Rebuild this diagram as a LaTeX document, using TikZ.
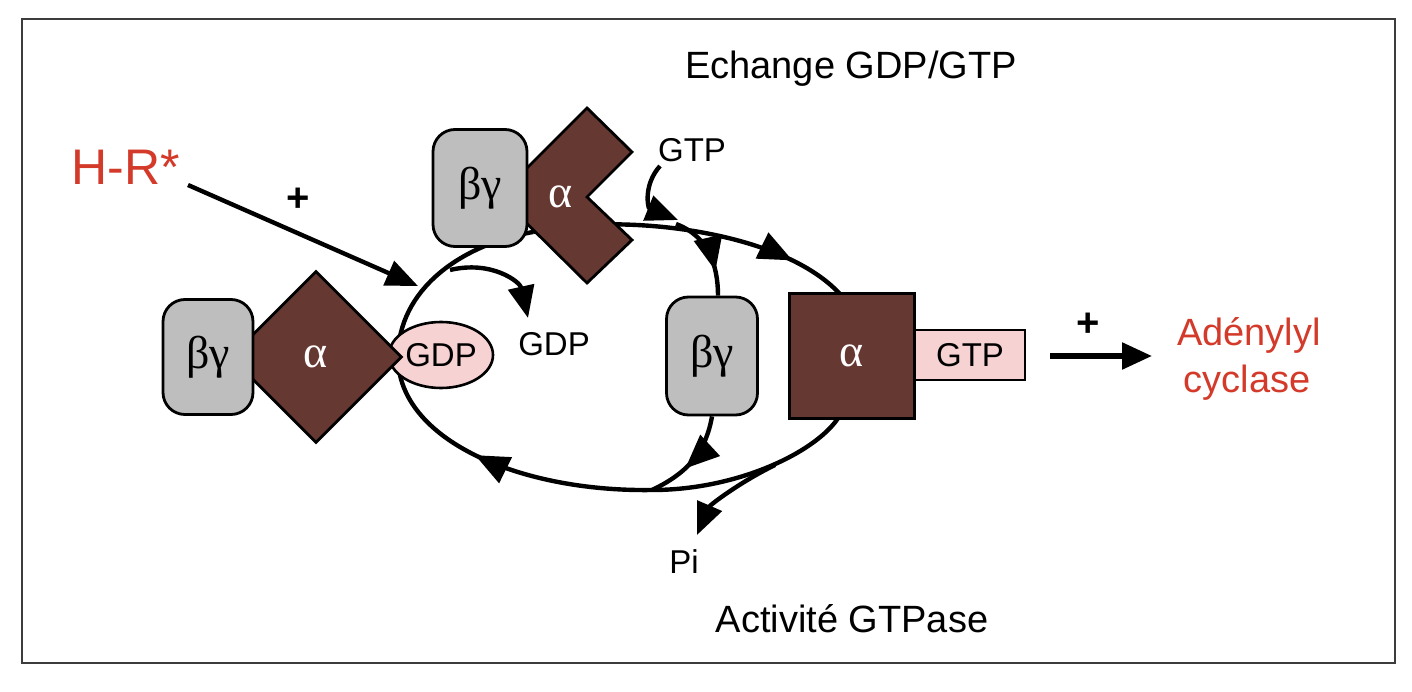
\documentclass[tikz,border=0pt]{standalone}
\usepackage{fontspec}
\setmainfont{Liberation Sans}
\newfontfamily\grk{Liberation Serif}
\usetikzlibrary{arrows.meta,decorations.markings,shapes.geometric}
\definecolor{bgray}{RGB}{190,190,190}
\definecolor{abrown}{RGB}{102,56,50}
\definecolor{gpink}{RGB}{246,210,210}
\definecolor{hred}{RGB}{212,58,42}
\definecolor{framec}{RGB}{60,60,60}
\begin{document}
\begin{tikzpicture}[x=1pt,y=-1pt,
  cyc/.style={line width=4.4pt},
  tip/.style={-{Triangle[length=32pt,width=26pt]}},
  marrow/.style={postaction={decorate},decoration={markings,mark=at position #1 with {\arrow{Triangle[length=34pt,width=28pt]}}}},
  greek/.style={font=\grk\fontsize{46}{46}\selectfont},
  bgbox/.style={draw=black,line width=2.8pt,fill=bgray,rounded corners=22pt,inner sep=0pt,greek},
  abox/.style={draw=black,line width=2.8pt,fill=abrown},
  lab/.style={font=\fontsize{33}{33}\selectfont,inner sep=0pt,anchor=base},
  big/.style={font=\fontsize{38}{38}\selectfont,inner sep=0pt,anchor=base},
  plus/.style={font=\bfseries\fontsize{40}{40}\selectfont,inner sep=0pt},
]
\fill[white] (0,0) rectangle (1412,692);
\useasboundingbox (0,0) rectangle (1412,692);
\draw[draw=framec,line width=2.8pt] (22,19) rectangle (1395,663);

% cycle coordinates
\coordinate (L) at (398,357);
\coordinate (TL) at (533,232);
\coordinate (SqT) at (845,300);
\coordinate (SqB) at (840,415);
\coordinate (B) at (652,490);

\draw[cyc] (L) .. controls (398,290) and (460,245) .. (TL);
\draw[cyc,marrow=0.8] (TL) .. controls (620,212) and (790,230) .. (SqT);
\draw[cyc] (SqT) -- (SqB);
\draw[cyc] (SqB) .. controls (820,450) and (740,490) .. (B);
\draw[cyc,marrow=0.58] (B) .. controls (520,492) and (398,440) .. (L);

% branches
\coordinate (gdpS) at (450,270);
\coordinate (gdpE) at (528,318);
\draw[cyc,tip] (gdpS) .. controls (492,260) and (520,282) .. (gdpE);
\coordinate (gtpS) at (660,166);
\coordinate (gtpE) at (678,220);
\draw[cyc,tip] (gtpS) .. controls (643,185) and (648,208) .. (gtpE);
\coordinate (bgS) at (676,224);
\coordinate (piS) at (775,465);
\coordinate (piE) at (697,535);
\draw[cyc,tip] (piS) .. controls (740,482) and (710,505) .. (piE);

% texts
\node[big] (ech) at (851,79) {Echange GDP/GTP};
\node[font=\fontsize{50}{50}\selectfont,text=hred,anchor=base,inner sep=0pt] (hr) at (126,185) {H-R*};
\node[plus] (p1) at (298,200) {+};
\node[lab] (gtpl) at (692,162) {GTP};
\node[lab] (gdpl) at (554,355) {GDP};
\node[lab] (pi) at (684,573) {Pi};
\node[big] (act) at (852,632) {Activité GTPase};
\node[big,text=hred] (ad1) at (1249,345) {Adénylyl};
\node[big,text=hred] (ad2) at (1247,392) {cyclase};
\node[plus] (p2) at (1088,325) {+};

\coordinate (hrS) at (188,185);
\coordinate (hrE) at (418,286);
\draw[cyc,tip] (hrS) -- (hrE);

% shapes
\node[ellipse,draw=black,line width=2.6pt,fill=gpink,minimum width=104pt,minimum height=66pt,inner sep=0pt,font=\fontsize{33}{33}\selectfont] (gdp1) at (441,355) {GDP};
\node[diamond,abox,minimum width=172pt,minimum height=172pt,inner sep=0pt,greek,text=white] (a1) at (316,357) {α};
\node[bgbox,minimum width=90pt,minimum height=115pt] (bg1) at (208,357) {βγ};

\draw[abox] (587,108) -- (632,152) -- (587,197) -- (632,240) -- (587,283) -- (499,196) -- cycle;
\node[greek,text=white,inner sep=0pt] (a2) at (561,197) {α};
\node[bgbox,minimum width=94pt,minimum height=117pt] (bg2) at (480,188) {βγ};

\node[bgbox,minimum width=91pt,minimum height=118pt] (bg3) at (712,356) {βγ};
\node[draw=black,line width=2.4pt,fill=gpink,minimum width=110pt,minimum height=50pt,inner sep=0pt,font=\fontsize{33}{33}\selectfont] (gtp2) at (970,355) {GTP};
\node[abox,minimum size=125pt,inner sep=0pt,greek,text=white] (a3) at (852,356) {α};

% branches through the free beta-gamma
\draw[cyc,marrow=0.72] (bgS) .. controls (708,236) and (718,265) .. ([xshift=6pt]bg3.north);
\draw[cyc,marrow=0.6] (bg3.south) .. controls (706,450) and (690,472) .. (B);
\draw[line width=5.5pt,-{Triangle[length=30pt,width=26pt]}] (1050,356) -- (1152,356);
\end{tikzpicture}
\end{document}
